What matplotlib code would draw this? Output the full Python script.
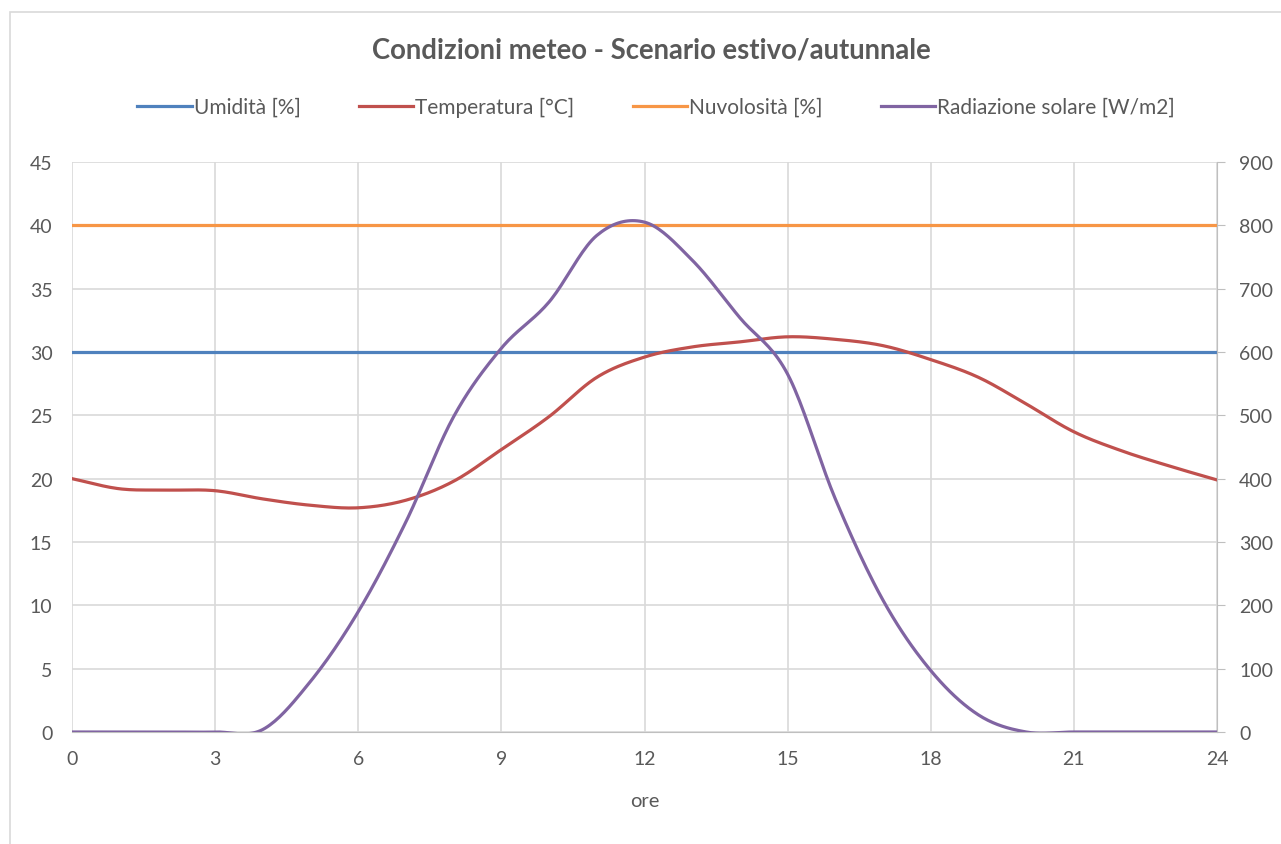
import numpy as np
import matplotlib
matplotlib.use("Agg")
import matplotlib.pyplot as plt
from matplotlib.patches import Rectangle

plt.rcParams['font.family'] = ['Lato', 'DejaVu Sans']

ore = list(range(25))
umidita = [30] * 25
nuvolosita = [40] * 25
temperatura = [20, 19.2, 19.1, 19.05, 18.4, 17.9, 17.7, 18.3, 19.8, 22.3, 24.9, 28.0, 29.6,
               30.4, 30.8, 31.2, 31.0, 30.5, 29.4, 28.0, 25.9, 23.7, 22.2, 21.0, 19.9]
radiazione = [0, 0, 0, 0, 4, 80, 190, 332, 498, 606, 679, 784, 805,
              745, 654, 565, 368, 208, 97, 27, 0, 0, 0, 0, 0]

col_um = '#4F81BD'
col_temp = '#C0504D'
col_nuv = '#F79646'
col_rad = '#8064A2'
grigio = '#595959'


def smooth(x, y, n=20):
    # curva tipo Excel (Catmull-Rom) passante per i punti
    x = np.asarray(x, float)
    y = np.asarray(y, float)
    px = np.concatenate([[2 * x[0] - x[1]], x, [2 * x[-1] - x[-2]]])
    py = np.concatenate([[2 * y[0] - y[1]], y, [2 * y[-1] - y[-2]]])
    xs, ys = [], []
    t = np.linspace(0, 1, n, endpoint=False)
    for i in range(1, len(px) - 2):
        for arr, out in ((px, xs), (py, ys)):
            p0, p1, p2, p3 = arr[i - 1], arr[i], arr[i + 1], arr[i + 2]
            out.extend(0.5 * ((2 * p1) + (-p0 + p2) * t + (2 * p0 - 5 * p1 + 4 * p2 - p3) * t ** 2
                              + (-p0 + 3 * p1 - 3 * p2 + p3) * t ** 3))
    xs.append(x[-1])
    ys.append(y[-1])
    return np.array(xs), np.array(ys)


fig = plt.figure(figsize=(12.81, 8.45), dpi=100)
# bordo dell'area grafico (esce a destra e in basso)
fig.patches.append(Rectangle((10 / 1281, -0.05), 1.2, 1 - 13 / 845 + 0.05, transform=fig.transFigure,
                             fill=False, edgecolor='#d9d9d9', linewidth=1.2))
ax = fig.add_axes([72 / 1281, 1 - 733 / 845, (1217 - 72) / 1281, (733 - 163) / 845])
ax2 = ax.twinx()

ax.plot(ore, umidita, color=col_um, lw=2.3, label='Umidità [%]')
xs, ys = smooth(ore, temperatura)
ax.plot(xs, ys, color=col_temp, lw=2.3, label='Temperatura [°C]')
ax.plot(ore, nuvolosita, color=col_nuv, lw=2.3, label='Nuvolosità [%]')
xs, ys = smooth(ore, radiazione)
ax2.plot(xs, ys, color=col_rad, lw=2.3, label='Radiazione solare [W/m2]')

ax.set_xlim(0, 24)
ax.set_ylim(0, 45)
ax2.set_ylim(0, 900)
ax.set_xticks(range(0, 25, 3))
ax.set_yticks(range(0, 46, 5))
ax2.set_yticks(range(0, 901, 100))
ax.grid(True, color='#d9d9d9', lw=1.2)
ax.set_axisbelow(True)

for a in (ax, ax2):
    for s in a.spines.values():
        s.set_visible(False)
    a.tick_params(colors=grigio, labelsize=14, length=0)
ax.tick_params(axis='y', pad=14)
ax.tick_params(axis='x', pad=13)
ax2.spines['right'].set_visible(True)
ax2.spines['right'].set_color('#bfbfbf')
ax2.tick_params(axis='y', length=6, color='#bfbfbf', direction='out', pad=10)
ax.spines['bottom'].set_visible(True)
ax.spines['bottom'].set_color('#bfbfbf')

ax.set_xlabel('ore', color=grigio, fontsize=14.5, labelpad=18)
fig.text(651 / 1281, 1 - 50 / 845, 'Condizioni meteo - Scenario estivo/autunnale', ha='center', va='center',
         fontsize=19.8, fontweight='bold', color=grigio)

h1, l1 = ax.get_legend_handles_labels()
h2, l2 = ax2.get_legend_handles_labels()
fig.legend(h1 + h2, l1 + l2, loc='center', bbox_to_anchor=(656 / 1281, 1 - 108 / 845), ncol=4, frameon=False,
           fontsize=15, labelcolor=grigio, handlelength=2.6, handletextpad=0.1, columnspacing=2.8)

fig.savefig('out.png', dpi=100)
